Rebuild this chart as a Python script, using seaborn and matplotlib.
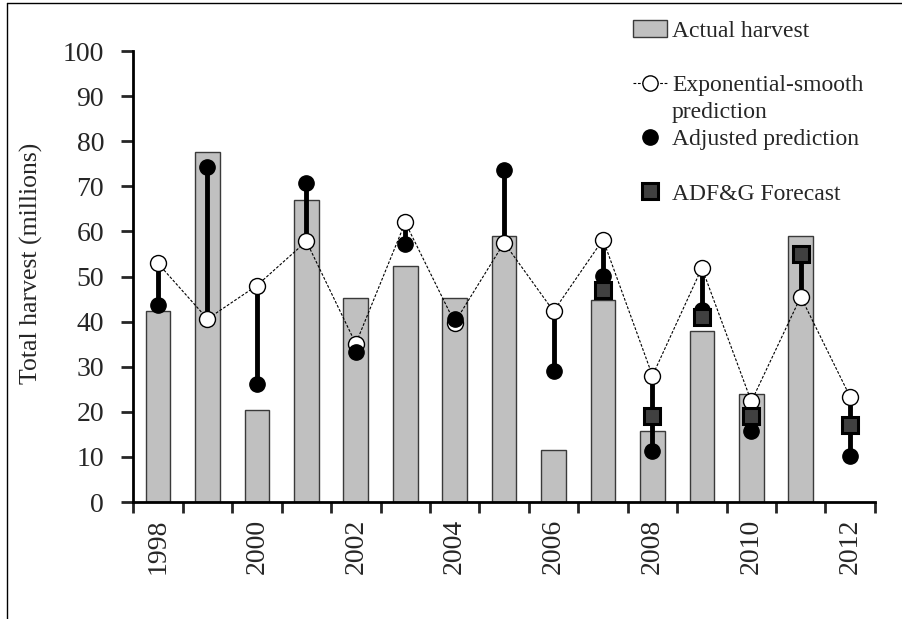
import numpy as np
import pandas as pd
import matplotlib
matplotlib.use("Agg")
import matplotlib.pyplot as plt
from matplotlib.lines import Line2D
from matplotlib.patches import Patch
import seaborn as sns

years = [str(y) for y in range(1998, 2013)]
actual = [42.3, 77.6, 20.3, 66.9, 45.3, 52.3, 45.3, 58.9, 11.6, 44.8, 15.8, 37.9, 24.0, 58.9, np.nan]
smooth = [52.9, 40.6, 48.0, 57.8, 35.1, 62.0, 39.8, 57.5, 42.3, 58.2, 28.0, 51.9, 22.3, 45.5, 23.3]
adjusted = [43.6, 74.3, 26.1, 70.8, 33.3, 57.3, 40.5, 73.6, 29.0, 50.1, 11.3, 42.5, 15.7, 55.0, 10.2]
forecast = [np.nan] * 9 + [47.0, 19.1, 41.0, 19.1, 55.0, 17.0]

df = pd.DataFrame({"year": years, "actual": actual, "smooth": smooth,
                   "adjusted": adjusted, "forecast": forecast})

sns.set_style("white")
plt.rcParams["font.family"] = ["Liberation Serif", "DejaVu Serif"]

fig = plt.figure(figsize=(9.02, 6.19), dpi=100)
ax = fig.add_axes([0.1478, 0.189, 0.8222, 0.7286])

# bars
sns.barplot(data=df, x="year", y="actual", order=years, color="#c0c0c0",
            saturation=1, width=0.5, edgecolor="#3a3a3a", linewidth=1, ax=ax)

pos = np.arange(len(years))
lo = df[["smooth", "adjusted", "forecast"]].min(axis=1)
hi = df[["smooth", "adjusted", "forecast"]].max(axis=1)
ax.vlines(pos, lo, hi, color="black", lw=3.5, zorder=3)

ax.plot(pos, df["smooth"], ls=(0, (2.5, 1.5)), lw=0.8, color="black",
        marker="o", ms=11.5, mfc="white", mec="black", mew=1, zorder=4)
ax.plot(pos, df["adjusted"], ls="none", marker="o", ms=11, mfc="black",
        mec="black", zorder=5)
ax.plot(pos, df["forecast"], ls="none", marker="s", ms=11, mfc="#404040",
        mec="black", mew=2.2, zorder=6)

ax.set_xlim(-0.5, len(years) - 0.5)
ax.set_ylim(0, 100)
ax.set_yticks(range(0, 101, 10))
ax.set_xticks(np.arange(-0.5, len(years), 1.0))
ax.set_xticklabels([])
ax.set_xticks(pos, minor=True)
ax.set_xticklabels([y if int(y) % 2 == 0 else "" for y in years], minor=True,
                   rotation=90, fontsize=20)
ax.tick_params(axis="x", which="major", length=8, width=2, direction="out", bottom=True)
ax.tick_params(axis="x", which="minor", length=0, pad=12, bottom=True)
ax.tick_params(axis="y", length=9, width=2, direction="out", labelsize=20, pad=12, left=True)
ax.set_xlabel("")
ax.set_ylabel("Total harvest (millions)", fontsize=18.5)
ax.yaxis.set_label_coords(-0.122, 0.53)

for s in ["top", "right"]:
    ax.spines[s].set_visible(False)
for s in ["left", "bottom"]:
    ax.spines[s].set_linewidth(2)
    ax.spines[s].set_color("black")

# legend, with blank rows for the spacing
blank = Line2D([], [], ls="none")
handles = [Patch(facecolor="#c0c0c0", edgecolor="#3a3a3a", lw=1),
           blank,
           Line2D([], [], ls=(0, (2.5, 1.5)), lw=0.8, color="black", marker="o",
                  ms=11, mfc="white", mec="black"),
           blank,
           Line2D([], [], ls="none", marker="o", ms=11, color="black"),
           blank,
           Line2D([], [], ls="none", marker="s", ms=11, mfc="#404040", mec="black", mew=2.2)]
labels = ["Actual harvest", " ", "Exponential-smooth", "prediction",
          "Adjusted prediction", " ", "ADF&G Forecast"]
fig.legend(handles, labels, frameon=False, fontsize=17, borderpad=0, borderaxespad=0,
           handlelength=1.45, handletextpad=0.2, labelspacing=0.24, loc="upper left",
           bbox_to_anchor=(633 / 902, 1 - 20 / 619))

# outer frame (cropped)
fig.add_artist(Line2D([7 / 902, 7 / 902], [0, 1 - 3 / 619], color="black", lw=1))
fig.add_artist(Line2D([7 / 902, 1], [1 - 3 / 619, 1 - 3 / 619], color="black", lw=1))

fig.savefig("out.png", dpi=100)
